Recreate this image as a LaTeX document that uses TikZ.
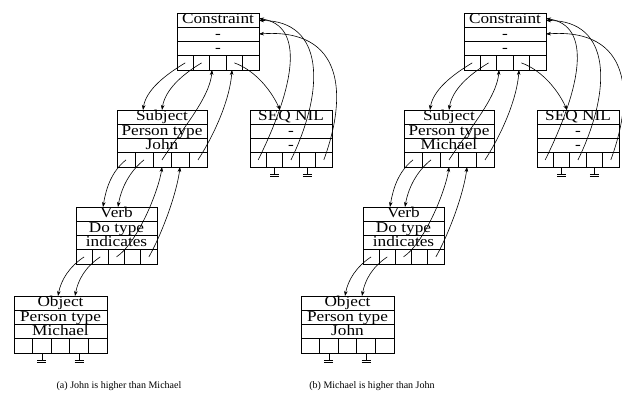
\documentclass[tikz,border=0pt]{standalone}
\usepackage{fontspec}
\setmainfont{Liberation Serif}
\newfontfamily\boxfont{Liberation Serif}[FakeStretch=1.15]
\usetikzlibrary{arrows.meta}
\tikzset{
 boxline/.style={line width=0.9pt, black},
 boxnode/.style={draw, line width=0.9pt, inner sep=0pt, outer sep=0pt},
 lbl/.style={font=\boxfont\fontsize{15}{15}\selectfont, inner sep=0pt, anchor=base},
 conn/.style={line width=0.6pt, -{Stealth[length=5pt,width=3.6pt]}},
 captext/.style={font=\fontsize{10}{12}\selectfont, inner sep=0pt, anchor=base},
 gnd/.style={line width=0.8pt},
}
\newcommand{\myrec}[7]{%
 \begin{scope}[shift={(#2,#3)}]
  \node[boxnode, minimum width=#4pt, minimum height=57pt, anchor=north west] (#1) at (0,0) {};
  \draw[boxline] (0,14.25) -- (#4,14.25) (0,28.5) -- (#4,28.5) (0,42.75) -- (#4,42.75);
  \foreach \i in {1,...,4} {\draw[boxline] ({\i*#4/5},42.75) -- ({\i*#4/5},57);}
  \node[lbl] (#1-t1) at ({#4/2},10.95) {#5};
  \node[lbl] (#1-t2) at ({#4/2},25.2) {#6};
  \node[lbl] (#1-t3) at ({#4/2},39.45) {#7};
  \foreach \i in {1,...,5} {\coordinate (#1-c\i) at ({(\i-0.5)*#4/5},49.9);
     \coordinate (#1-b\i) at ({(\i-0.5)*#4/5},57);}
 \end{scope}}
\newcommand{\myground}[1]{\draw[gnd] (#1) -- ++(0,7) ++(-4.5,0) -- ++(9,0) ++(-9,2.5) -- ++(9,0);}
\newcommand{\mypanel}[4]{%
 \begin{scope}[shift={(#2,0)}]
  \myrec{#1con}{177}{13}{82}{Constraint}{-}{-}
  \myrec{#1sub}{117}{110}{90}{Subject}{Person type}{#3}
  \myrec{#1seq}{250}{110}{82}{SEQ NIL}{-}{-}
  \myrec{#1verb}{76}{207}{81}{Verb}{Do type}{indicates}
  \myrec{#1obj}{14}{296}{93}{Object}{Person type}{#4}
  \coordinate (#1sub-in1) at (143,110);
  \coordinate (#1sub-in2) at (162,110);
  \coordinate (#1verb-in1) at (103,207);
  \coordinate (#1verb-in2) at (118,207);
  \coordinate (#1obj-in1) at (58,296);
  \coordinate (#1obj-in2) at (75,296);
  \coordinate (#1seq-in) at (280,110);
  \coordinate (#1con-in3) at (212,70);
  \coordinate (#1con-in4) at (232,70);
  \coordinate (#1con-r1) at (259,18.5);
  \coordinate (#1con-r1b) at (259,20.5);
  \coordinate (#1con-r2) at (259,34);
  % Constraint -> Subject
  \draw[conn] (#1con-c1) .. controls +(-20,12) and +(3,-20) .. (#1sub-in1);
  \draw[conn] (#1con-c2) .. controls +(-20,12) and +(3,-20) .. (#1sub-in2);
  % Subject -> Constraint
  \draw[conn] (#1sub-c3) .. controls +(18,-28) and +(-2,28) .. (#1con-in3);
  \draw[conn] (#1sub-c5) .. controls +(18,-28) and +(-2,28) .. (#1con-in4);
  % Constraint -> SEQ NIL
  \draw[conn] (#1con-c4) .. controls +(22,8) and +(-8,-18) .. (#1seq-in);
  % SEQ NIL -> Constraint
  \draw[conn] (#1seq-c1) .. controls +(37,-75) and +(46,7) .. (#1con-r1);
  \draw[conn] (#1seq-c3) .. controls +(34,-70) and +(66,0) .. (#1con-r1b);
  \draw[conn] (#1seq-c5) .. controls +(24,-65) and +(85,-6) .. (#1con-r2);
  % Subject -> Verb
  \draw[conn] (#1sub-c1) .. controls +(-15,12) and +(3,-18) .. (#1verb-in1);
  \draw[conn] (#1sub-c2) .. controls +(-15,12) and +(3,-18) .. (#1verb-in2);
  % Verb -> Subject
  \draw[conn] (#1verb-c3) .. controls +(22,-15) and +(-3,22) .. (#1sub-b3);
  \draw[conn] (#1verb-c5) .. controls +(14,-25) and +(-3,25) .. (#1sub-b4);
  % Verb -> Object
  \draw[conn] (#1verb-c1) .. controls +(-15,10) and +(3,-16) .. (#1obj-in1);
  \draw[conn] (#1verb-c2) .. controls +(-15,10) and +(3,-16) .. (#1obj-in2);
  % grounds
  \myground{#1seq-b2}
  \myground{#1seq-b4}
  \myground{#1obj-b2}
  \myground{#1obj-b4}
 \end{scope}}
\begin{document}
\begin{tikzpicture}[x=1pt,y=-1pt]
 \fill[white] (0,0) rectangle (622,397);
 \useasboundingbox (0,0) rectangle (622,397);
 \mypanel{a}{0}{John}{Michael}
 \mypanel{b}{287}{Michael}{John}
 \node[captext] (capa) at (119,388) {(a) John is higher than Michael};
 \node[captext] (capb) at (372,388) {(b) Michael is higher than John};
\end{tikzpicture}
\end{document}
